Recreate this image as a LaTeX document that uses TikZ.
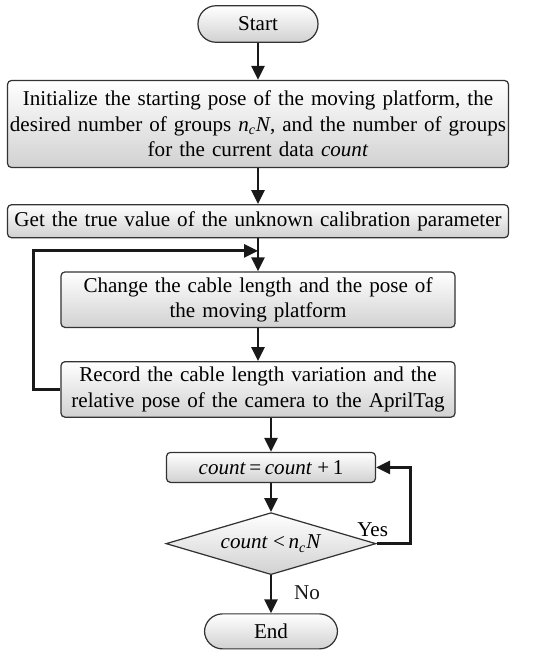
\documentclass[tikz,border=0pt]{standalone}
\usepackage{fontspec}
\setmainfont{Liberation Serif}
\usepackage{tikz}
\usetikzlibrary{arrows.meta,positioning,shapes.geometric,calc}

\begin{document}
\begin{tikzpicture}[
  x=0.2mm,y=-0.2mm,
  >={Triangle[length=2.8mm,width=2.6mm]},
  font=\fontsize{12}{14.6}\selectfont,
  base/.style={draw=black!80,line width=0.7pt,top color=white,bottom color=black!18,inner sep=0pt,align=center},
  term/.style={base,rounded corners=3.6mm,minimum width=24mm,minimum height=7.3mm},
  proc/.style={base,rounded corners=0.8mm,text width=100.2mm,minimum height=6.6mm},
  subproc/.style={base,rounded corners=0.8mm,text width=78.8mm,minimum height=11.1mm},
  test/.style={base,diamond,aspect=3.4,minimum width=42mm,minimum height=12.4mm},
  edge/.style={->,line width=1.6pt,black!90},
  lbl/.style={inner sep=1pt}
]
\useasboundingbox (0,0) rectangle (550,659);
\node[term] (start) at (258,24) {Start};
\node[proc,below=7.4mm of start,minimum height=17.4mm] (init) {Initialize the starting pose of the moving platform, the\\desired number of groups \textit{n}\textsubscript{\textit{c}}\textit{N}, and the number of groups\\for the current data \textit{count}};
\node[proc,below=7.2mm of init] (get) {Get the true value of the unknown calibration parameter};
\node[subproc,below=6.6mm of get] (chg) {Change the cable length and the pose of\\the moving platform};
\node[subproc,below=6.6mm of chg] (rec) {Record the cable length variation and the\\relative pose of the camera to the AprilTag};
\node[base,rounded corners=0.8mm,minimum width=41.8mm,minimum height=6mm,below=6.8mm of rec,xshift=2.6mm] (cnt) {\textit{count}\,=\,\textit{count} +\,1};
\node[test,below=5.8mm of cnt] (dia) {\textit{count} <\,\textit{n}\textsubscript{\textit{c}}\textit{N}};
\node[term,minimum width=26.6mm,minimum height=7mm,below=7.6mm of dia] (end) {End};
\coordinate (join) at ($(get.south)!0.38!(chg.north)$);
\foreach \a/\b in {start/init,init/get,chg/rec,cnt/dia} \draw[edge] (\a)--(\b);
\draw[edge] (get.south)--(chg.north);
\draw[edge] (cnt.north|-rec.south)--(cnt.north);
\draw[edge] (rec.west)--++(-27,0)|-(join);
\draw[edge] (dia.east)--++(34,0)|-(cnt.east);
\draw[edge] (dia)--(end) node[lbl,right,pos=0.45,xshift=4mm] {No};
\node[lbl,above=1mm of dia.east,xshift=-0.8mm] (yes) {Yes};
\end{tikzpicture}
\end{document}
